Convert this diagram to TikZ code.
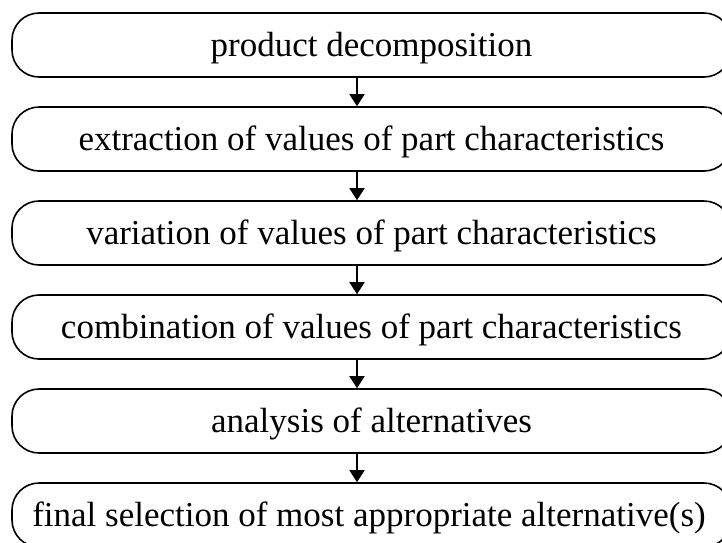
\documentclass[tikz,border=0pt]{standalone}
\usepackage{fontspec}
\setmainfont{Liberation Serif}
\usetikzlibrary{arrows.meta}
\begin{document}
\begin{tikzpicture}[x=1pt,y=-1pt,
  stagebox/.style={draw=black, line width=1.6pt, rounded corners=27pt,
    minimum width=719pt, minimum height=64pt, inner sep=0pt},
  stagetext/.style={font=\fontsize{35}{40}\selectfont, inner sep=0pt, text=black},
  flowarrow/.style={line width=1.6pt, -{Triangle[width=15pt,length=12pt]}}]
\useasboundingbox[fill=white] (0,0) rectangle (722,542);
\node[stagebox] (b1) at (371.5,45) {};
\node[stagebox] (b2) at (371.5,139) {};
\node[stagebox] (b3) at (371.5,233) {};
\node[stagebox] (b4) at (371.5,327) {};
\node[stagebox] (b5) at (371.5,421) {};
\node[stagebox] (b6) at (371.5,515) {};
\node[stagetext] (t1) at (371.5,48) {product decomposition};
\node[stagetext] (t2) at (371.5,142) {extraction of values of part characteristics};
\node[stagetext] (t3) at (371.5,236) {variation of values of part characteristics};
\node[stagetext] (t4) at (371.5,330) {combination of values of part characteristics};
\node[stagetext] (t5) at (371.5,424) {analysis of alternatives};
\node[stagetext] (t6) at (369,518) {final selection of most appropriate alternative(s)};
\coordinate (ax) at (357,0);
\draw[flowarrow] (b1.south -| ax) -- (b2.north -| ax);
\draw[flowarrow] (b2.south -| ax) -- (b3.north -| ax);
\draw[flowarrow] (b3.south -| ax) -- (b4.north -| ax);
\draw[flowarrow] (b4.south -| ax) -- (b5.north -| ax);
\draw[flowarrow] (b5.south -| ax) -- (b6.north -| ax);
\end{tikzpicture}
\end{document}
